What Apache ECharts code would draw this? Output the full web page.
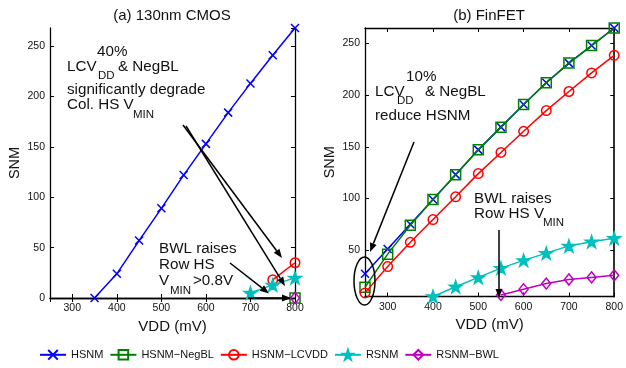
<!DOCTYPE html>
<html>
<head>
<meta charset="utf-8">
<script src="https://cdn.jsdelivr.net/npm/echarts@6/dist/echarts.min.js"></script>
<style>
html,body{margin:0;padding:0;background:#fff;}
#c{width:626px;height:368px;}
</style>
</head>
<body>
<div id="c"></div>
<script>
// ---------- DATA ----------
var seriesNames = ['HSNM', 'HSNM\u2212NegBL', 'HSNM\u2212LCVDD', 'RSNM', 'RSNM\u2212BWL'];
var panelTitles = ['(a) 130nm CMOS', '(b) FinFET'];

// (a) 130nm CMOS
var vddA_hsnm = [350, 400, 450, 500, 550, 600, 650, 700, 750, 800];
var hsnmA     = [0, 24, 57, 89, 122, 153, 184, 213, 241, 268];
var vddA_negbl = [800];
var negblA     = [0];
var vddA_lcvdd = [750, 800];
var lcvddA     = [18, 35];
var vddA_rsnm  = [700, 750, 800];
var rsnmA      = [5, 13, 20];
var vddA_bwl   = [800];
var rsnmBwlA   = [0];

// (b) FinFET
var vddB = [250, 300, 350, 400, 450, 500, 550, 600, 650, 700, 750, 800];
var hsnmB  = [27, 51, 75, 99, 123, 147, 169, 191, 212, 231, 248, 265];
var negblB = [14, 46, 74, 99, 123, 147, 169, 191, 212, 231, 248, 265];
var lcvddB = [8.5, 34, 57.5, 79.5, 101.5, 124, 144.5, 165, 185, 203.5, 221.5, 238.5];
var vddB_rsnm = [400, 450, 500, 550, 600, 650, 700, 750, 800];
var rsnmB     = [5, 14.5, 23.5, 32.5, 40, 47, 54, 58, 61.5];
var vddB_bwl  = [550, 600, 650, 700, 750, 800];
var rsnmBwlB  = [6.5, 12, 17.5, 21.5, 23.5, 25.5];

// ---------- STYLE ----------
var FONT = "'Liberation Sans', Arial, Helvetica, sans-serif";
var colors = ['#0000ff', '#008000', '#ff0000', '#00bfbf', '#bf00bf'];
var xSym = 'path://M0,0L10,10M0,10L10,0';
var starSym = 'path://M100,0L122.45,69.1L195.1,69.1L136.3,111.8L158.8,180.9L100,138.2L41.2,180.9L63.7,111.8L4.9,69.1L77.55,69.1Z';
var symbols = [xSym, 'rect', 'circle', starSym, 'diamond'];
var symSizes = [8, 10, 9.5, [12.5, 12], [9, 11]];
var fills = ['rgba(0,0,0,0)', 'rgba(0,0,0,0)', 'rgba(0,0,0,0)', '#00bfbf', 'rgba(0,0,0,0)'];
var ANN = 15.2, SUB = 11.5;

function zip(xs, ys) { return xs.map(function (x, i) { return [x, ys[i]]; }); }

function mkSeries(k, xs, ys, gi) {
  return {
    type: 'line', name: seriesNames[k],
    xAxisIndex: gi * 2, yAxisIndex: gi * 2,
    data: zip(xs, ys),
    symbol: symbols[k], symbolSize: symSizes[k],
    showAllSymbol: true, clip: false,
    lineStyle: { color: colors[k], width: 1.5 },
    itemStyle: { color: fills[k], borderColor: colors[k], borderWidth: 1.5 },
    emphasis: { disabled: true },
    z: 2 + k
  };
}

var axLine = { show: true, lineStyle: { color: '#000', width: 1.3 } };
var axLabel = { color: '#111', fontSize: 10.5, fontFamily: FONT };

function xAx(gi, bottom) {
  return {
    type: 'value', gridIndex: gi, position: bottom ? 'bottom' : 'top',
    min: 250, max: 800, splitNumber: 5,
    axisLine: axLine,
    axisTick: { show: true, inside: true, length: 4, lineStyle: { color: '#000' } },
    axisLabel: bottom ? Object.assign({ margin: 5, showMinLabel: false }, axLabel) : { show: false },
    splitLine: { show: false },
    name: bottom ? 'VDD (mV)' : '', nameLocation: 'middle', nameGap: 14.5,
    nameTextStyle: { fontSize: 15, fontFamily: FONT, color: '#111' }
  };
}
function yAx(gi, left, mn, mx, useInterval) {
  var a = {
    type: 'value', gridIndex: gi, position: left ? 'left' : 'right',
    min: mn, max: mx,
    axisLine: (gi === 1 && !left) ? { show: true, lineStyle: { color: '#333', width: 2 } } : axLine,
    axisTick: { show: true, inside: true, length: 4, lineStyle: { color: '#000' } },
    axisLabel: left ? Object.assign({ margin: 5, showMaxLabel: false, showMinLabel: gi === 0 }, axLabel) : { show: false },
    splitLine: { show: false },
    name: left ? 'SNM' : '', nameLocation: 'middle', nameGap: 28, nameRotate: 90,
    nameTextStyle: { fontSize: 14.5, fontFamily: FONT, color: '#111' }
  };
  if (useInterval) a.interval = 50; else a.splitNumber = 5;
  return a;
}

var series = [
  mkSeries(0, vddA_hsnm, hsnmA, 0),
  mkSeries(1, vddA_negbl, negblA, 0),
  mkSeries(2, vddA_lcvdd, lcvddA, 0),
  mkSeries(3, vddA_rsnm, rsnmA, 0),
  mkSeries(4, vddA_bwl, rsnmBwlA, 0),
  mkSeries(0, vddB, hsnmB, 1),
  mkSeries(1, vddB, negblB, 1),
  mkSeries(2, vddB, lcvddB, 1),
  mkSeries(3, vddB_rsnm, rsnmB, 1),
  mkSeries(4, vddB_bwl, rsnmBwlB, 1)
];

// ---------- ANNOTATIONS ----------
function txt(s, x, y, size) {
  return { type: 'text', z: 50, style: { text: s, x: x, y: y, fill: '#111', font: (size || ANN) + 'px ' + FONT, verticalAlign: 'middle', align: 'left' } };
}
function arrow(x1, y1, x2, y2) {
  var dx = x2 - x1, dy = y2 - y1, L = Math.sqrt(dx * dx + dy * dy);
  var ux = dx / L, uy = dy / L, hl = 9, hw = 3.5;
  var bx = x2 - ux * hl, by = y2 - uy * hl;
  return [
    { type: 'line', z: 50, shape: { x1: x1, y1: y1, x2: bx, y2: by }, style: { stroke: '#000', lineWidth: 1.5 } },
    { type: 'polygon', z: 50, shape: { points: [[x2, y2], [bx - uy * hw, by + ux * hw], [bx + uy * hw, by - ux * hw]] }, style: { fill: '#000' } }
  ];
}

var graphics = [].concat(
  [
    txt('40%', 97, 52),
    txt('LCV', 67, 67), txt('DD', 98, 76, SUB), txt('& NegBL', 118, 67),
    txt('significantly degrade', 67, 90),
    txt('Col. HS V', 67, 105), txt('MIN', 133, 115, SUB),
    txt('BWL raises', 159, 249),
    txt('Row HS', 159, 265),
    txt('V', 159, 281), txt('MIN', 170, 291, SUB), txt('>0.8V', 193, 281),
    txt('10%', 406, 77),
    txt('LCV', 375, 92), txt('DD', 397, 101, SUB), txt('& NegBL', 425, 92),
    txt('reduce HSNM', 375, 116),
    txt('BWL raises', 474, 199),
    txt('Row HS V', 474, 214), txt('MIN', 543, 223, SUB),
    { type: 'ellipse', z: 50, shape: { cx: 364.5, cy: 281, rx: 10.5, ry: 24 }, style: { fill: 'none', stroke: '#000', lineWidth: 1.5 } }
  ],
  arrow(183, 125, 282, 258),
  arrow(186, 126, 285, 286),
  arrow(230, 263, 269, 293.5),
  arrow(248, 298, 291, 298),
  arrow(414, 142, 370, 252),
  arrow(499, 230, 499, 298)
);

var chart = echarts.init(document.getElementById('c'), null, { renderer: 'canvas' });
chart.setOption({
  animation: false,
  backgroundColor: '#fff',
  textStyle: { fontFamily: FONT },
  title: [
    { text: panelTitles[0], left: 167, top: 3, textAlign: 'center', textStyle: { fontSize: 15, fontWeight: 'normal', color: '#111', fontFamily: FONT } },
    { text: panelTitles[1], left: 484, top: 3, textAlign: 'center', textStyle: { fontSize: 15, fontWeight: 'normal', color: '#111', fontFamily: FONT } }
  ],
  grid: [
    { left: 50, top: 28, width: 245, height: 270 },
    { left: 365, top: 28, width: 252, height: 268.5 }
  ],
  xAxis: [xAx(0, true), xAx(0, false), xAx(1, true), xAx(1, false)],
  yAxis: [yAx(0, true, 0, 268, true), yAx(0, false, 0, 268, true), yAx(1, true, 5, 265, false), yAx(1, false, 5, 265, false)],
  legend: {
    left: 34, top: 344, itemWidth: 26, itemHeight: 12, itemGap: 6,
    data: seriesNames,
    textStyle: { fontSize: 11, fontFamily: FONT, color: '#111' }
  },
  series: series,
  graphic: graphics
});
</script>
</body>
</html>
